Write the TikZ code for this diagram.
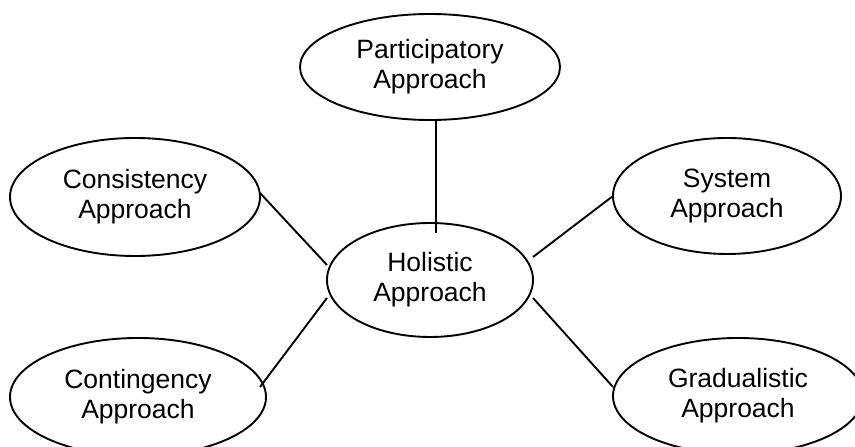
\documentclass[tikz,border=0pt]{standalone}
\usepackage{fontspec}
\setmainfont{Liberation Sans}
\usetikzlibrary{shapes.geometric}
\begin{document}
\begin{tikzpicture}[x=1bp,y=1bp,
  oval/.style={ellipse, draw, line width=1.9bp, inner sep=0pt, outer sep=0pt,
    align=center, font=\fontsize{26.5bp}{30bp}\selectfont},
  link/.style={line width=1.9bp}]
\useasboundingbox (0,0) rectangle (855,447);
\node[oval, minimum width=260bp, minimum height=106bp] (P) at (430,380) {Participatory\\Approach};
\node[oval, minimum width=250bp, minimum height=118bp] (C) at (135,250) {Consistency\\Approach};
\node[oval, minimum width=228bp, minimum height=116bp] (S) at (727,251) {System\\Approach};
\node[oval, minimum width=206bp, minimum height=114bp] (H) at (430,167) {Holistic\\Approach};
\node[oval, minimum width=256bp, minimum height=118bp] (K) at (138,50) {Contingency\\Approach};
\node[oval, minimum width=250bp, minimum height=116bp] (G) at (738,51) {Gradualistic\\Approach};
\draw[link] ([xshift=6bp]P.south) -- ([xshift=6bp,yshift=-10bp]H.north);
\draw[link] ([yshift=4bp]C.east) -- ([yshift=15bp]H.west);
\draw[link] (S.west) -- ([yshift=23bp]H.east);
\draw[link] ([xshift=-6bp,yshift=10bp]K.east) -- ([yshift=-18bp]H.west);
\draw[link] ([yshift=9bp]G.west) -- ([yshift=-18bp]H.east);
\end{tikzpicture}
\end{document}
